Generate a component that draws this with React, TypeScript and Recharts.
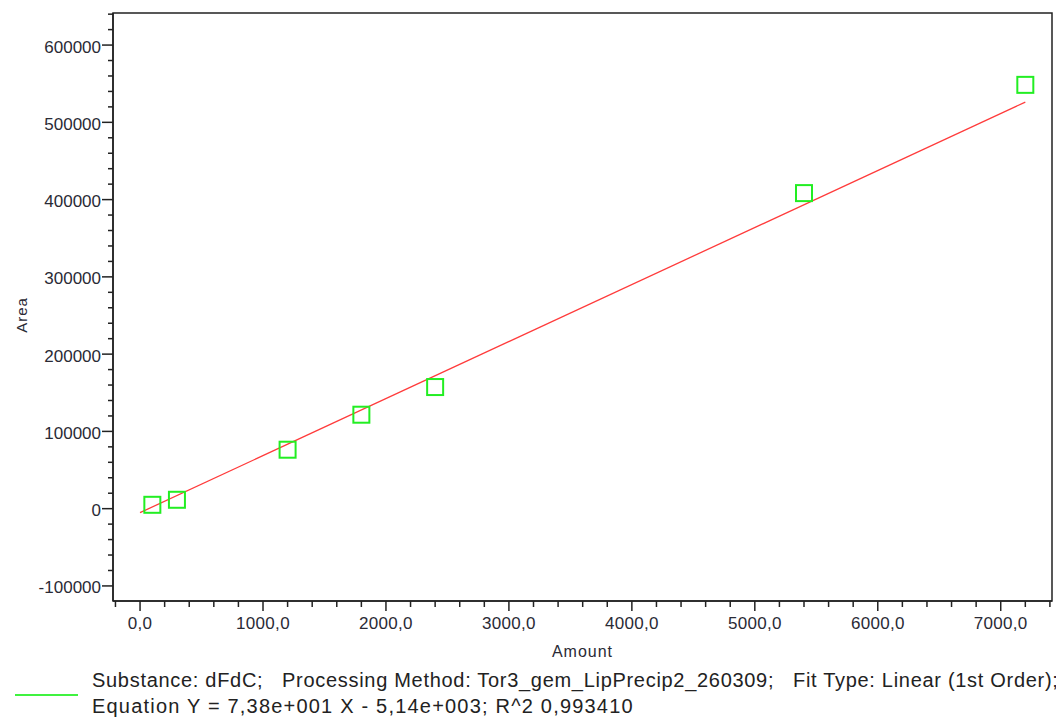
import { ScatterChart, Scatter, XAxis, YAxis, ReferenceArea } from 'recharts';

// calibration points (amount vs area)
const amounts = [100, 300, 1200, 1800, 2400, 5400, 7200];
const areas = [5000, 11500, 76300, 121600, 157400, 408400, 548500];

// fitted line end points: Y = 7,38e+001 X - 5,14e+003
const fitAmounts = [0, 7200];
const fitAreas = [-5140, 526220];

const xMajorTicks = [0, 1000, 2000, 3000, 4000, 5000, 6000, 7000];
const yMajorTicks = [-100000, 0, 100000, 200000, 300000, 400000, 500000, 600000];

const legendLine1 = 'Substance: dFdC;   Processing Method: Tor3_gem_LipPrecip2_260309;   Fit Type: Linear (1st Order);';
const legendLine2 = 'Equation Y = 7,38e+001 X - 5,14e+003; R^2 0,993410';

const W = 1056;
const H = 711;
const FONT = '"Liberation Sans", Arial, Helvetica, sans-serif';
const TEXT = '#2a2a35';
const AXIS = '#222';
const X_DOMAIN: [number, number] = [-220, 7417];
const Y_DOMAIN: [number, number] = [-119500, 641500];

const xTicks: number[] = [];
for (let v = -200; v <= 7400; v += 200) xTicks.push(v);
const yTicks: number[] = [];
for (let v = -100000; v <= 640000; v += 20000) yTicks.push(v);

const points = amounts.map((x, i) => ({ x, y: areas[i] }));
const fit = fitAmounts.map((x, i) => ({ x, y: fitAreas[i] }));

const XTick = (props: any) => {
  const { x, y, payload } = props;
  const major = xMajorTicks.includes(payload.value);
  return (
    <g>
      <line x1={x} x2={x} y1={y} y2={y + (major ? 10 : 6)} stroke={AXIS} strokeWidth={1.5} />
      {major && (
        <text x={x} y={y + 28} textAnchor="middle" fontSize={17} fontFamily={FONT} fill={TEXT} letterSpacing={0.3}>
          {payload.value.toFixed(1).replace('.', ',')}
        </text>
      )}
    </g>
  );
};

const YTick = (props: any) => {
  const { x, y, payload } = props;
  const major = yMajorTicks.includes(payload.value);
  return (
    <g>
      <line x1={x} x2={x - (major ? 11 : 5)} y1={y} y2={y} stroke={AXIS} strokeWidth={1.5} />
      {major && (
        <text x={x - 12} y={y + 7.5} textAnchor="end" fontSize={17} fontFamily={FONT} fill={TEXT}>
          {payload.value}
        </text>
      )}
    </g>
  );
};

const Square = (props: any) => {
  const { cx, cy } = props;
  return <rect x={cx - 8} y={cy - 8} width={16} height={16} fill="none" stroke="#22ee22" strokeWidth={2} />;
};

export default function App() {
  return (
    <div style={{ position: 'relative', width: W, height: H }}>
      <ScatterChart width={W} height={H} margin={{ top: 5, right: 12, bottom: 58, left: 0 }}>
        <XAxis
          type="number"
          dataKey="x"
          domain={X_DOMAIN}
          ticks={xTicks}
          interval={0}
          tickSize={0}
          tickMargin={0}
          tick={<XTick />}
          height={60}
          stroke={AXIS}
          strokeWidth={1.5}
          allowDataOverflow
        />
        <YAxis
          type="number"
          dataKey="y"
          domain={Y_DOMAIN}
          ticks={yTicks}
          interval={0}
          tickSize={0}
          tickMargin={0}
          tick={<YTick />}
          width={105}
          stroke={AXIS}
          strokeWidth={1.5}
          allowDataOverflow
        />
        <ReferenceArea
          x1={X_DOMAIN[0]}
          x2={X_DOMAIN[1]}
          y1={Y_DOMAIN[0]}
          y2={Y_DOMAIN[1]}
          fill="none"
          fillOpacity={0}
          stroke={AXIS}
          strokeWidth={1.5}
          ifOverflow="visible"
        />
        <Scatter data={fit} line={{ stroke: '#ff3b3b', strokeWidth: 1.3 }} shape={() => <g />} isAnimationActive={false} />
        <Scatter data={points} shape={<Square />} isAnimationActive={false} />
      </ScatterChart>
      <svg width={W} height={H} style={{ position: 'absolute', left: 0, top: 0, pointerEvents: 'none' }}>
        <text x={574.5} y={649} textAnchor="middle" fontSize={16} letterSpacing={1} fontFamily={FONT} fill={TEXT}>
          Amount
        </text>
        <text transform="translate(19,307) rotate(-90)" textAnchor="middle" fontSize={15} letterSpacing={1} fontFamily={FONT} fill={TEXT}>
          Area
        </text>
        <line x1={7} x2={70} y1={687} y2={687} stroke="#00ee00" strokeWidth={1.5} />
        <text x={84} y={679} fontSize={20} letterSpacing={0.7} fontFamily={FONT} fill="#222" style={{ whiteSpace: 'pre' }}>
          {legendLine1}
        </text>
        <text x={84} y={705} fontSize={20} letterSpacing={1.2} fontFamily={FONT} fill="#222" style={{ whiteSpace: 'pre' }}>
          {legendLine2}
        </text>
      </svg>
    </div>
  );
}
